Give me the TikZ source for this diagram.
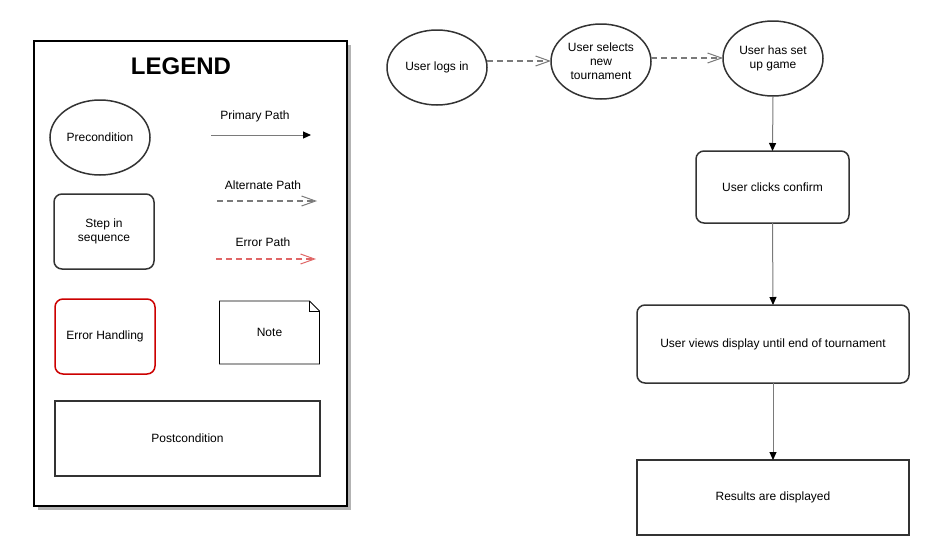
\documentclass[tikz,border=0pt]{standalone}
\usepackage{fontspec}
\setmainfont{Liberation Sans}
\usetikzlibrary{shapes.geometric,arrows.meta}
\definecolor{edgegray}{HTML}{7A7A7A}
\definecolor{boxdark}{HTML}{333333}
\definecolor{errred}{HTML}{CC0000}
\definecolor{errline}{HTML}{E06666}
\definecolor{shadowgray}{HTML}{B3B3B3}
\tikzset{
  every node/.style={font=\fontsize{12}{14}\selectfont, text=black, align=center, inner sep=0pt, outer sep=0pt},
  precond/.style={ellipse, draw=boxdark, line width=1.5pt, minimum width=100pt, minimum height=75pt},
  stepbox/.style={rectangle, rounded corners=8pt, draw=boxdark, line width=1.5pt},
  errbox/.style={rectangle, rounded corners=8pt, draw=errred, line width=1.5pt},
  postbox/.style={rectangle, draw=boxdark, line width=2pt},
  primarrow/.style={draw=edgegray, line width=1pt, -{Triangle[length=8pt,width=7pt,color=black]}},
  altarrow/.style={draw=edgegray, line width=1.5pt, dash pattern=on 6pt off 4pt, -{Straight Barb[length=14pt,width=10pt,line width=1pt]}},
  errarrow/.style={draw=errline, line width=1.5pt, dash pattern=on 6pt off 4pt, -{Straight Barb[length=14pt,width=10pt,line width=1pt]}},
}
\begin{document}
\begin{tikzpicture}[x=1pt,y=-1pt]
\useasboundingbox[fill=white] (0,0) rectangle (931,555);
% legend frame
\fill[shadowgray] (38,45) rectangle (351,510);
\draw[fill=white, line width=2pt] (34,41) rectangle (347,506);
\node[font=\fontsize{24}{28}\selectfont\bfseries] (legendtitle) at (181,66) {LEGEND};
% legend items
\node[precond] (lpre) at (100,137.5) {Precondition};
\node (lprim) at (255,116) {Primary Path};
\coordinate (lprimA) at (211,135);
\coordinate (lprimB) at (311,135);
\draw[primarrow] (lprimA) -- (lprimB);
\node[stepbox, minimum width=100pt, minimum height=75pt] (lstep) at (104,231.5) {Step in\\sequence};
\node (lalt) at (263,185) {Alternate Path};
\coordinate (laltA) at (217,201);
\coordinate (laltB) at (317,201);
\draw[altarrow] (laltA) -- (laltB);
\node (lerr) at (263,242) {Error Path};
\coordinate (lerrA) at (216,259);
\coordinate (lerrB) at (316,259);
\draw[errarrow] (lerrA) -- (lerrB);
\node[errbox, minimum width=100pt, minimum height=75pt] (lerrh) at (105,336.5) {Error Handling};
\node[minimum width=100pt, minimum height=63pt] (lnote) at (269.5,332.5) {Note};
\draw[line width=0.8pt] (lnote.north west) -- ([xshift=-10pt]lnote.north east) -- ([yshift=-10pt]lnote.north east) -- (lnote.south east) -- (lnote.south west) -- cycle;
\draw[line width=0.8pt] ([xshift=-10pt]lnote.north east) -- ([xshift=-10pt,yshift=-10pt]lnote.north east) -- ([yshift=-10pt]lnote.north east);
\node[postbox, minimum width=265pt, minimum height=75pt] (lpost) at (187.5,438.5) {Postcondition};
% flow
\node[precond] (logs) at (437,67.5) {User logs in};
\node[precond] (selects) at (601,61.5) {User selects\\new\\tournament};
\node[precond] (setup) at (773,58.5) {User has set\\up game};
\node[stepbox, minimum width=153pt, minimum height=72pt] (confirm) at (772.5,187) {User clicks confirm};
\node[stepbox, minimum width=272pt, minimum height=78pt] (views) at (773,344) {User views display until end of tournament};
\node[postbox, minimum width=272pt, minimum height=75pt] (results) at (773,497.5) {Results are displayed};
\draw[altarrow] (logs.east |- 0,61) -- (selects.west |- 0,61);
\draw[altarrow] (selects.east |- 0,58) -- (setup.west |- 0,58);
\draw[primarrow] (setup.south) -- (confirm.north);
\draw[primarrow] (confirm.south) -- (views.north);
\draw[primarrow] (views.south) -- (results.north);
\end{tikzpicture}
\end{document}
